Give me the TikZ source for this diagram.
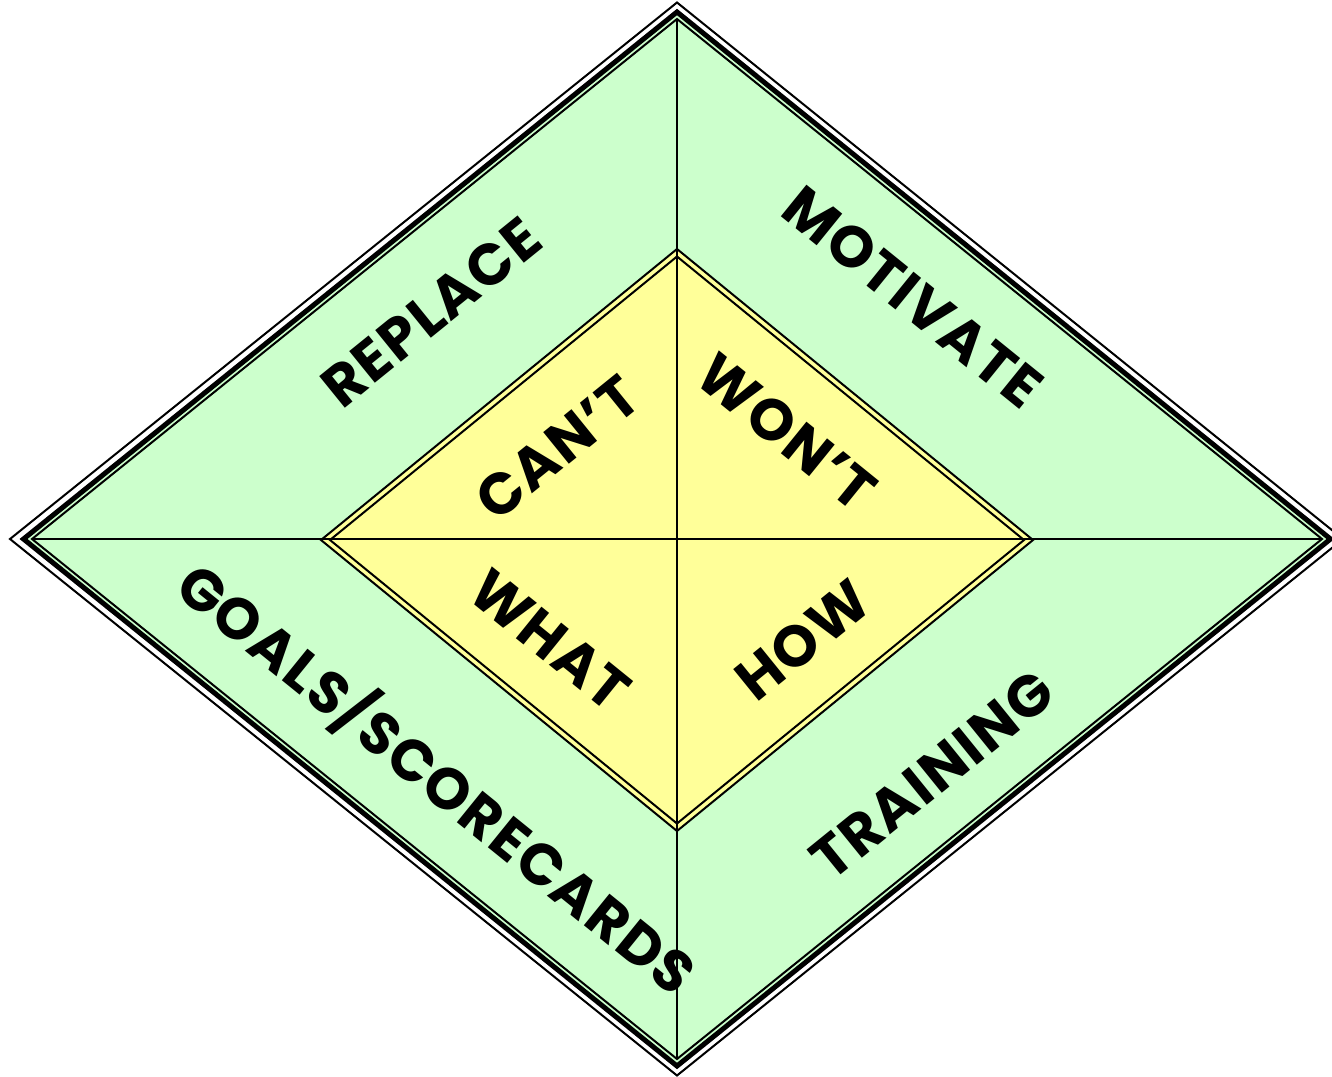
\documentclass[tikz,border=0pt]{standalone}
\usepackage{fontspec}
\newfontfamily\lblfont{Poppins}[LetterSpace=3]
\definecolor{mint}{HTML}{CCFFCC}
\definecolor{lemon}{HTML}{FFFF99}
\tikzset{
  thinline/.style={draw=black, line width=2pt, line join=miter},
  thickline/.style={draw=black, line width=5pt, line join=miter},
  word/.style={font=\lblfont\bfseries\fontsize{58}{62}\selectfont, inner sep=0pt},
  rise/.style={word, rotate=39},
  fall/.style={word, rotate=-39},
}
\begin{document}
\begin{tikzpicture}[x=1pt, y=-1pt]
  \useasboundingbox (0,0) rectangle (1332,1076);
  \clip (0,0) rectangle (1332,1076);

  % frame corners: inner thin line, thick band, outer thin line
  \coordinate (fT) at (677,19);    \coordinate (fR) at (1322,539);
  \coordinate (fB) at (677,1059);  \coordinate (fL) at (32,539);
  \coordinate (kT) at (677,12);    \coordinate (kR) at (1330.5,539);
  \coordinate (kB) at (677,1066);  \coordinate (kL) at (23.5,539);
  \coordinate (oT) at (677,2.5);   \coordinate (oR) at (1343,539);
  \coordinate (oB) at (677,1075.5);\coordinate (oL) at (10,539);

  % inner diamond: outer and inner line of the double border
  \coordinate (iT) at (677,249);   \coordinate (iR) at (1033,540);
  \coordinate (iB) at (677,831);   \coordinate (iL) at (321,540);
  \coordinate (jT) at (677,256.5); \coordinate (jR) at (1024,540);
  \coordinate (jB) at (677,823.5); \coordinate (jL) at (330,540);

  % outer frame
  \fill[mint] (kT) -- (kR) -- (kB) -- (kL) -- cycle;
  \draw[thickline] (kT) -- (kR) -- (kB) -- (kL) -- cycle;
  \draw[thinline] (oT) -- (oR) -- (oB) -- (oL) -- cycle;
  \draw[thinline] (fT) -- (fR) -- (fB) -- (fL) -- cycle;

  % inner diamond
  \fill[lemon] (iT) -- (iR) -- (iB) -- (iL) -- cycle;
  \draw[thinline] (iT) -- (iR) -- (iB) -- (iL) -- cycle;
  \draw[thinline] (jT) -- (jR) -- (jB) -- (jL) -- cycle;

  % dividing cross
  \draw[thinline] (fL) -- (fR);
  \draw[thinline] (fT) -- (fB);

  % outer labels
  \node[rise] (replace)  at (431,312) {REPLACE};
  \node[fall] (motivate) at (913,297) {MOTIVATE};
  \node[fall] (goals)    at (437,778) {GOALS/SCORECARDS};
  \node[rise] (training) at (932,775) {TRAINING};

  % inner labels
  \node[rise] (cant) at (557,448) {CAN’T};
  \node[fall] (wont) at (787,432) {WON’T};
  \node[fall] (what) at (550,640) {WHAT};
  \node[rise] (how)  at (803,640) {HOW};
\end{tikzpicture}
\end{document}
